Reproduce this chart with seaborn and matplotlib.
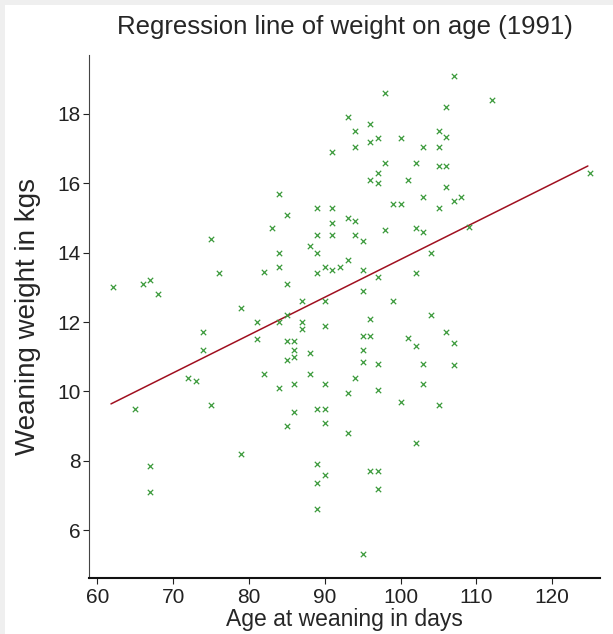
import matplotlib
matplotlib.use('Agg')
import matplotlib.pyplot as plt
import seaborn as sns
import pandas as pd
from matplotlib.patches import Rectangle

# age at weaning (days) and weaning weight (kg)
age = [75, 98, 93, 96, 94, 94, 96, 97, 100, 91, 103, 98, 102, 97, 96, 97, 101,
       84, 85, 83, 89, 91, 91, 93, 94, 89, 91, 94, 95, 88, 99, 100, 103, 98,
       102, 103, 107, 112, 106, 105, 106, 105, 105, 106, 106, 107, 108, 105,
       109, 125, 62, 66, 67, 68, 76, 82, 79, 81, 81, 74, 74, 72, 73, 65, 75,
       82, 89, 84, 84, 90, 91, 92, 93, 89, 95, 97, 102, 104, 85, 95, 87, 90,
       99, 84, 85, 87, 87, 90, 96, 104, 85, 86, 86, 86, 85, 88, 95, 96, 95,
       95, 97, 101, 102, 103, 88, 84, 86, 90, 94, 93, 97, 103, 100, 105, 89,
       90, 86, 85, 90, 93, 102, 106, 107, 107, 67, 67, 79, 89, 90, 89, 89,
       96, 97, 97, 95]
weight = [14.4, 18.6, 17.9, 17.7, 17.5, 17.05, 17.2, 17.3, 17.3, 16.9, 17.05,
          16.6, 16.6, 16.3, 16.1, 16.0, 16.1, 15.7, 15.1, 14.7, 15.3, 15.3,
          14.85, 15.0, 14.9, 14.5, 14.5, 14.5, 14.35, 14.2, 15.4, 15.4, 15.6,
          14.65, 14.7, 14.6, 19.1, 18.4, 18.2, 17.5, 17.35, 17.05, 16.5, 16.5,
          15.9, 15.5, 15.6, 15.3, 14.75, 16.3, 13.0, 13.1, 13.2, 12.8, 13.4,
          13.45, 12.4, 12.0, 11.5, 11.7, 11.2, 10.4, 10.3, 9.5, 9.6, 10.5,
          14.0, 14.0, 13.6, 13.6, 13.5, 13.6, 13.8, 13.4, 13.5, 13.3, 13.4,
          14.0, 13.1, 12.9, 12.6, 12.6, 12.6, 12.0, 12.2, 12.0, 11.8, 11.9,
          12.1, 12.2, 11.45, 11.45, 11.2, 11.0, 10.9, 11.1, 11.6, 11.6, 11.2,
          10.85, 10.8, 11.55, 11.3, 10.8, 10.5, 10.1, 10.2, 10.2, 10.4, 9.95,
          10.05, 10.2, 9.7, 9.6, 9.5, 9.5, 9.4, 9.0, 9.1, 8.8, 8.5, 11.7,
          11.4, 10.75, 7.85, 7.1, 8.2, 7.9, 7.6, 7.35, 6.6, 7.7, 7.7, 7.2, 5.3]

# fitted regression line, end points
fit_age = [61.8, 124.7]
fit_weight = [9.64, 16.5]

data = pd.DataFrame({'age': age, 'weight': weight})
fit = pd.DataFrame({'age': fit_age, 'weight': fit_weight})

sns.set_style('ticks')
plt.rcParams['font.family'] = ['Liberation Sans', 'DejaVu Sans']

fig = plt.figure(figsize=(6.13, 6.34), dpi=100)
fig.patch.set_facecolor('#efefef')
fig.patches.append(Rectangle((5 / 613, 0), 1, 1 - 5 / 634, transform=fig.transFigure,
                             facecolor='white', edgecolor='none', zorder=-1))
ax = fig.add_axes([89 / 613, 1 - 578 / 634, (600 - 89) / 613, (578 - 55) / 634])
ax.set_facecolor('none')

sns.scatterplot(x='age', y='weight', data=data, marker='x', color='#3c9a3c',
                s=15, linewidth=0.9, ax=ax, zorder=3)
sns.lineplot(x='age', y='weight', data=fit, color='#a01020', linewidth=1.1,
             ax=ax, zorder=2)

ax.set_xlim(58.9, 126.3)
ax.set_ylim(4.62, 19.7)
ax.set_xticks([60, 70, 80, 90, 100, 110, 120])
ax.set_yticks([6, 8, 10, 12, 14, 16, 18])
ax.tick_params(labelsize=15, length=4.5, pad=1.5, colors='#222222')
ax.tick_params(axis='x', pad=3)
sns.despine(ax=ax)
ax.spines['left'].set_color('#444444')
ax.spines['bottom'].set_color('#111111')
ax.spines['bottom'].set_linewidth(1.5)

ax.set_xlabel('Age at weaning in days', fontsize=16.5, labelpad=0.5)
ax.set_ylabel('Weaning weight in kgs', fontsize=20, labelpad=12)
ax.set_title('Regression line of weight on age (1991)', fontsize=18.5, pad=15)

plt.savefig('out.png', dpi=100)
plt.close()
